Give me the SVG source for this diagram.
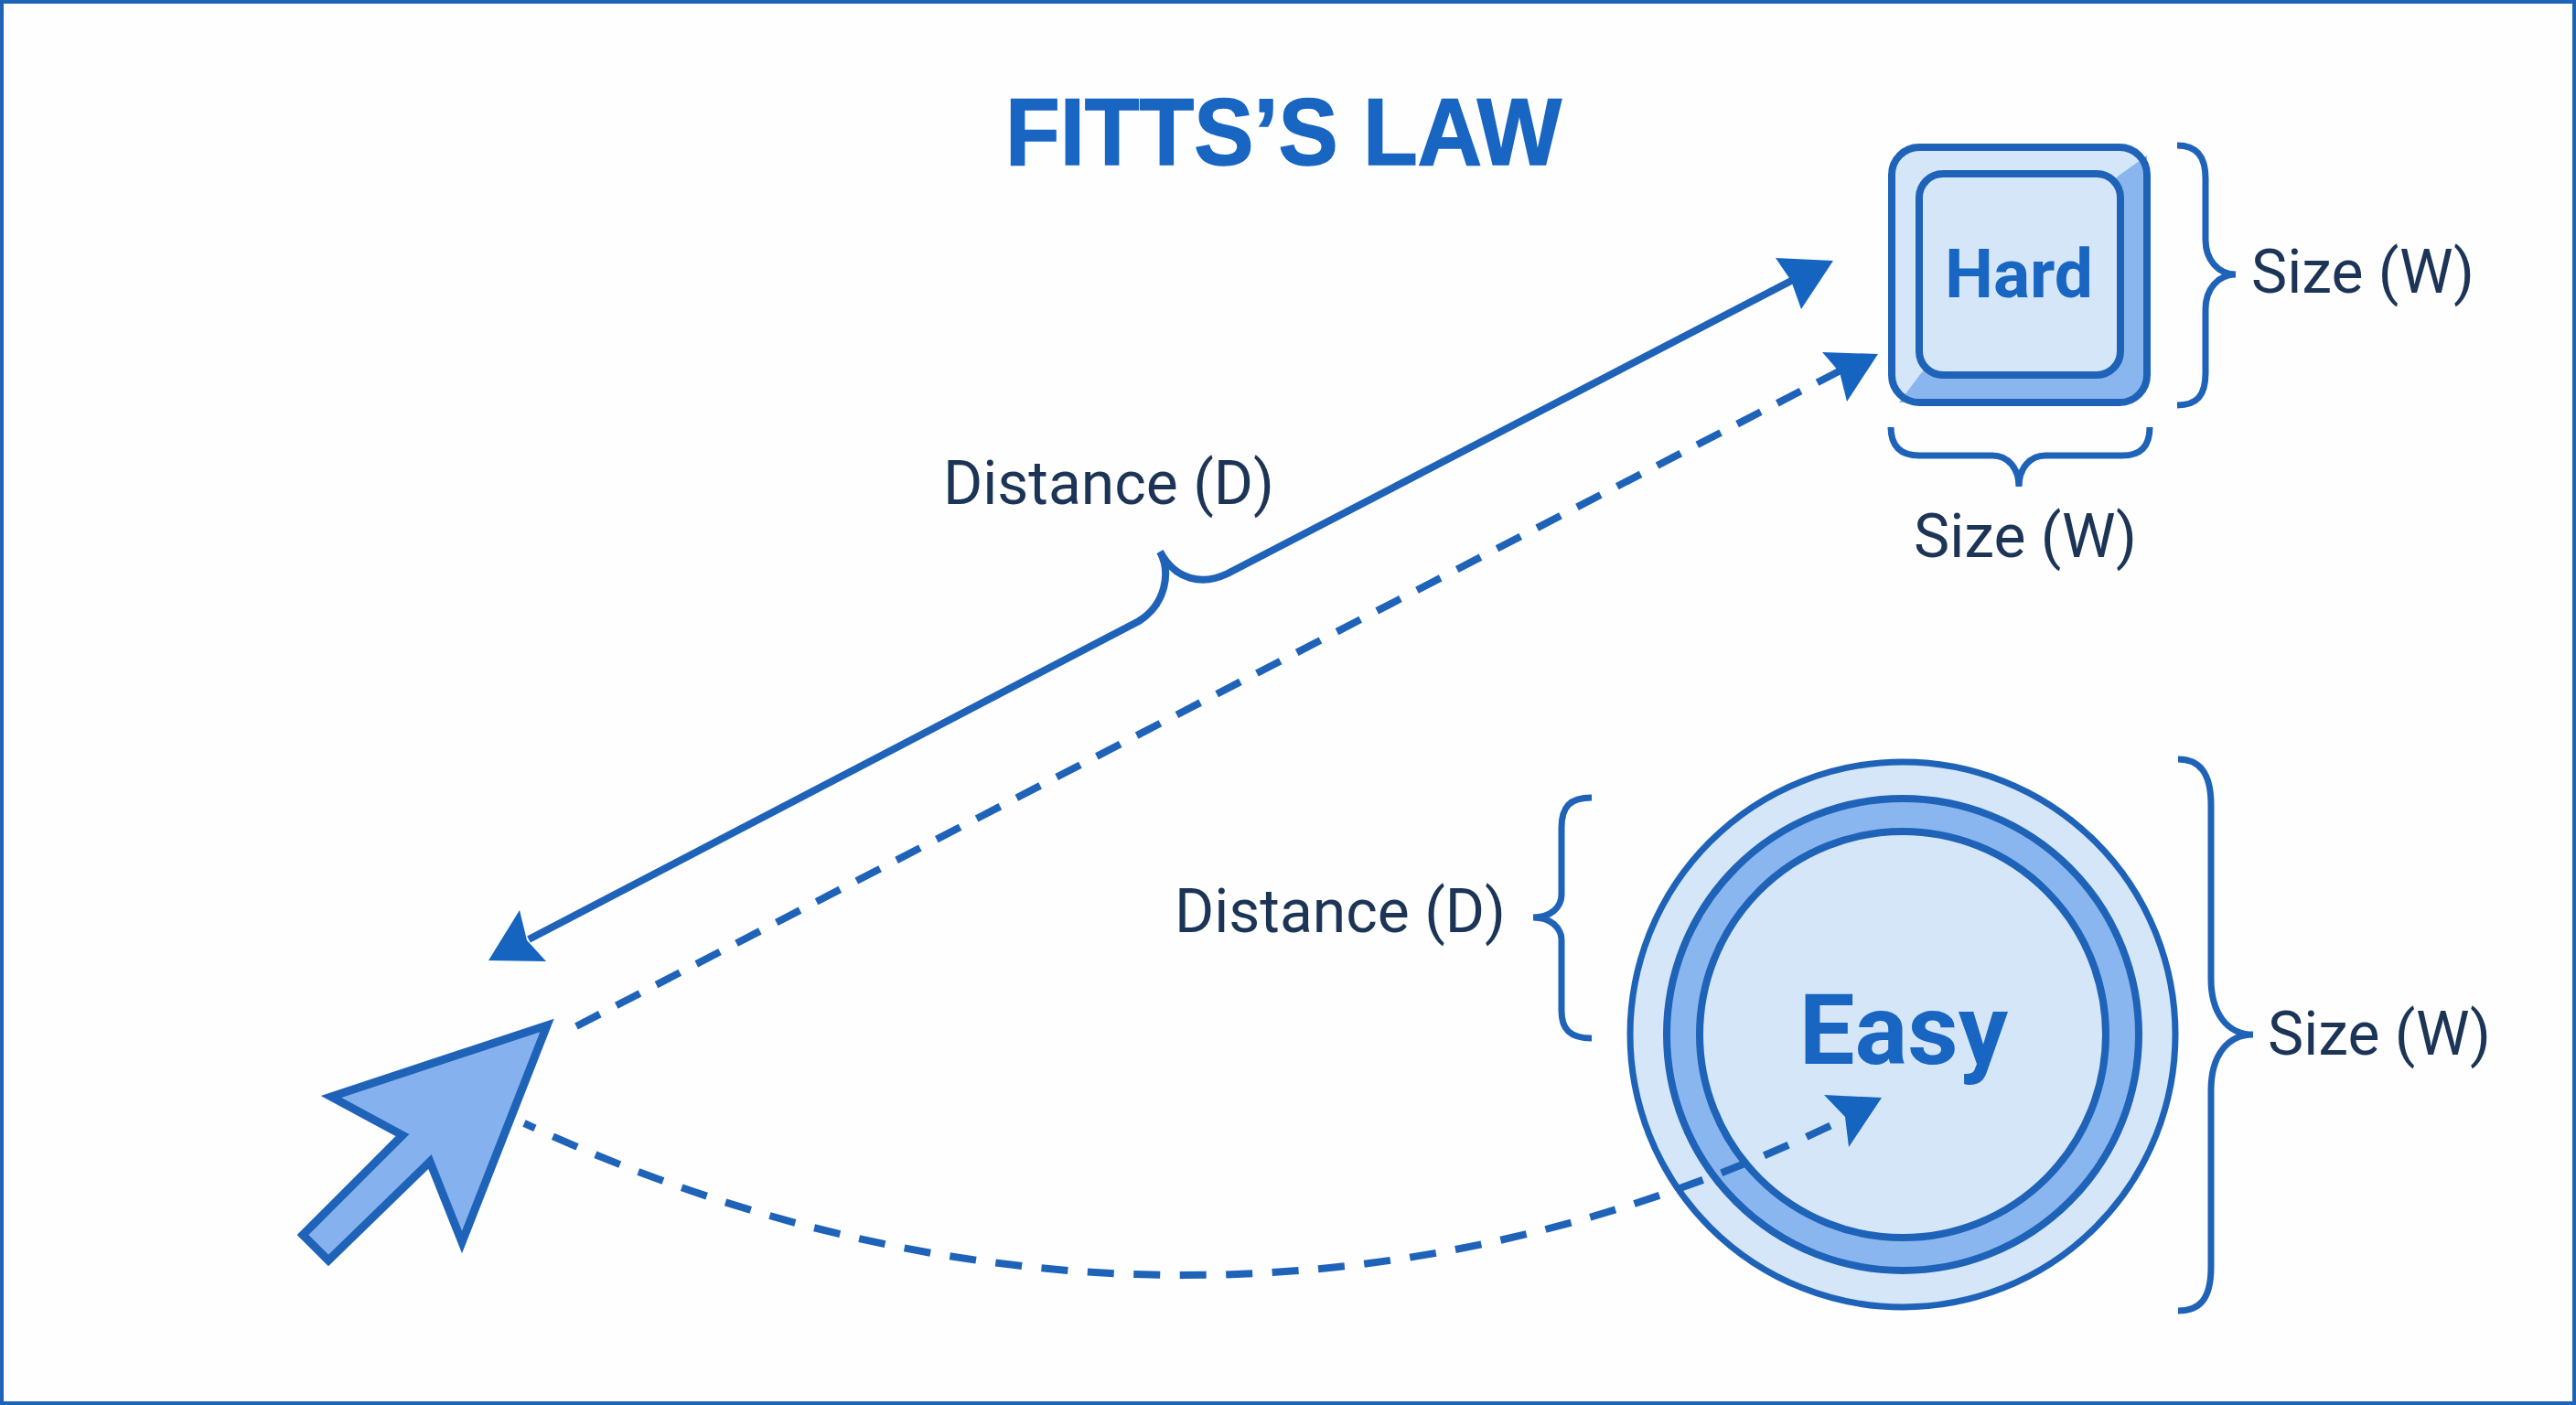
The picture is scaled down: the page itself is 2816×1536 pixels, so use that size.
<svg xmlns="http://www.w3.org/2000/svg" width="2816" height="1536" viewBox="0 0 2816 1536">
<style>
.lbl{font-family:Roboto,"Liberation Sans",sans-serif;font-size:66px;fill:#1c3557}
.bold{font-family:Roboto,"Liberation Sans",sans-serif;font-weight:700;fill:#1866c2}
.brace{fill:none;stroke:#1f63b8;stroke-width:7}
.line{fill:none;stroke:#1f63b8;stroke-width:8}
.dash{fill:none;stroke:#1f63b8;stroke-width:8}
.head{fill:#1565c0}
.ol{stroke:#1f63b8}
</style>
<rect x="2" y="2" width="2812" height="1532" fill="#fefefe" stroke="#1f63b8" stroke-width="4"/>
<g id="title"><text x="1403" y="180" text-anchor="middle" font-family="'Liberation Sans',Arial,sans-serif" font-weight="700" font-size="103" fill="#1866c2" stroke="#1866c2" stroke-width="1.5" textLength="608" lengthAdjust="spacingAndGlyphs">FITTS’S LAW</text></g>
<g id="hard-target">
<rect x="2068" y="161" width="279" height="279" rx="30" fill="#d5e6f8"/>
<path d="M2347,170 L2347,410 A30,30 0 0 1 2317,440 L2076,440 L2100,408 L2316,192 Z" fill="#8ab6ef"/>
<rect x="2068" y="161" width="279" height="279" rx="30" fill="none" class="ol" stroke-width="8"/>
<rect x="2098" y="190" width="220" height="220" rx="26" fill="#d5e6f8" class="ol" stroke-width="8"/>
<text class="bold" x="2207" y="325" text-anchor="middle" font-size="75">Hard</text>
</g>
<g id="easy-target">
<circle cx="2080" cy="1131" r="298" fill="#d5e6f8" class="ol" stroke-width="7"/>
<circle cx="2080" cy="1131" r="258" fill="#8ab6ef" class="ol" stroke-width="8"/>
<circle cx="2080" cy="1131" r="222" fill="#d5e6f8" class="ol" stroke-width="8"/>
<text class="bold" x="2081" y="1163" text-anchor="middle" font-size="108">Easy</text>
</g>
<g id="cursor">
<path d="M598,1121 L362,1199 L440,1241 L331,1350 L359,1378 L470,1270 L505,1358 Z" fill="#85b2ee" class="ol" stroke-width="9" stroke-miterlimit="10"/>
</g>
<g id="connectors">
<path class="line" d="M1960,306 L1342,627 C1315,640 1285,635 1268,603 C1280,625 1275,660 1245,679 L578,1027"/>
<polygon class="head" points="2004,285 1941,282 1958,307 1969,338"/>
<polygon class="head" points="534,1050 568,995 576,1028 597,1051"/>
<path class="dash" stroke-dasharray="29 20.3" d="M630,1122 L2012,405"/>
<polygon class="head" points="2053,387 1992,385 2011,407 2019,439"/>
<path class="dash" stroke-dasharray="29 21.5" stroke-dashoffset="16" d="M573,1228 C1060,1455 1560,1445 2015,1224"/>
<polygon class="head" points="2057,1200 1994,1197 2017,1221 2021,1254"/>
</g>
<g id="braces">
<path class="brace" d="M2380,159 C2402,159 2411,172 2411,195 L2411,262 C2411,284 2425,300 2444,300 C2425,300 2411,316 2411,338 L2411,408 C2411,432 2402,443 2380,443"/>
<path class="brace" d="M2067,467 C2067,488 2078,498 2098,498 L2178,498 C2195,498 2207,512 2207,532 C2207,512 2219,498 2236,498 L2320,498 C2340,498 2350,488 2350,467"/>
<path class="brace" d="M1740,872 C1716,872 1707,882 1707,905 L1707,978 C1707,992 1695,1003 1676,1003 C1695,1003 1707,1014 1707,1028 L1707,1105 C1707,1125 1716,1135 1740,1135"/>
<path class="brace" d="M2381,830 C2405,830 2417,845 2417,880 L2417,1070 C2417,1108 2435,1131 2463,1131 C2435,1131 2417,1154 2417,1192 L2417,1385 C2417,1420 2405,1433 2381,1433"/>
</g>
<g id="labels">
<text class="lbl" x="1212" y="551" text-anchor="middle">Distance (D)</text>
<text class="lbl" x="1465" y="1019" text-anchor="middle">Distance (D)</text>
<text class="lbl" x="2583" y="320" text-anchor="middle">Size (W)</text>
<text class="lbl" x="2214" y="609" text-anchor="middle">Size (W)</text>
<text class="lbl" x="2601" y="1153" text-anchor="middle">Size (W)</text>
</g>
</svg>
